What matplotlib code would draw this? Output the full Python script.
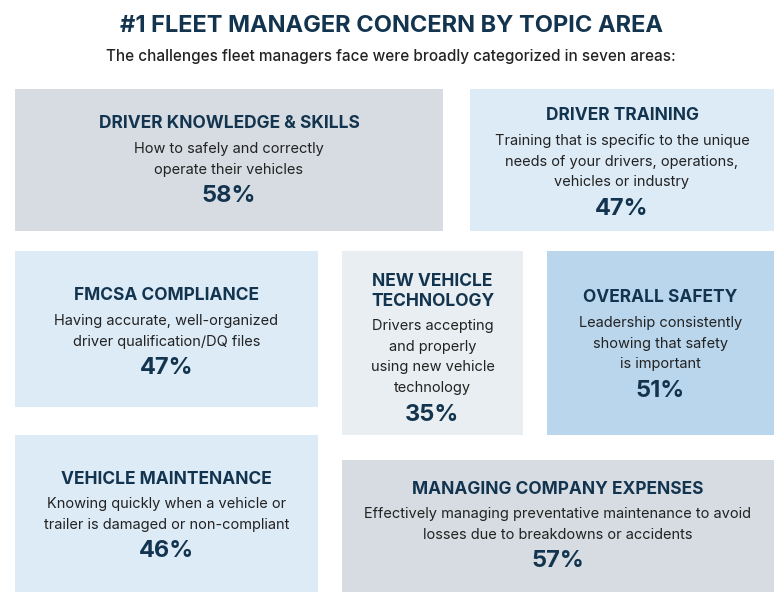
import matplotlib.pyplot as plt
from matplotlib.patches import Rectangle

plt.rcParams['font.family'] = ['Inter', 'DejaVu Sans']

topics = ["DRIVER KNOWLEDGE & SKILLS", "DRIVER TRAINING", "FMCSA COMPLIANCE",
          "NEW VEHICLE\nTECHNOLOGY", "OVERALL SAFETY", "VEHICLE MAINTENANCE",
          "MANAGING COMPANY EXPENSES"]
descriptions = [
    "How to safely and correctly\noperate their vehicles",
    "Training that is specific to the unique\nneeds of your drivers, operations,\nvehicles or industry",
    "Having accurate, well-organized\ndriver qualification/DQ files",
    "Drivers accepting\nand properly\nusing new vehicle\ntechnology",
    "Leadership consistently\nshowing that safety\nis important",
    "Knowing quickly when a vehicle or\ntrailer is damaged or non-compliant",
    "Effectively managing preventative maintenance to avoid\nlosses due to breakdowns or accidents",
]
percents = [58, 47, 47, 35, 51, 46, 57]

# layout: (x0, y0, x1, y1) in pixels, fill colour, first text line y
boxes = [(15, 89, 443, 231), (470, 89, 774, 231), (15, 251, 318, 407),
         (342, 251, 523, 435), (547, 251, 774, 435), (15, 435, 318, 592),
         (342, 460, 774, 592)]
colors = ["#d6dce2", "#ddebf7", "#ddebf7", "#e8eef1", "#bad6ec", "#ddebf7", "#d6dce2"]
start_y = [124, 116, 296, 281, 298, 479, 489]

navy = "#13344f"
dark = "#222222"

fig = plt.figure(figsize=(7.83, 6.02), dpi=100)
ax = fig.add_axes([0, 0, 1, 1])
ax.set_xlim(0, 783)
ax.set_ylim(602, 0)
ax.axis("off")

ax.text(391, 26, "#1 FLEET MANAGER CONCERN BY TOPIC AREA", ha="center", va="center",
        fontsize=17, fontweight="bold", color=navy)
ax.text(391, 56, "The challenges fleet managers face were broadly categorized in seven areas:",
        ha="center", va="center", fontsize=11, fontweight="medium", color=dark)

for (x0, y0, x1, y1), c, t, d, p, sy in zip(boxes, colors, topics, descriptions, percents, start_y):
    ax.add_patch(Rectangle((x0, y0), x1 - x0, y1 - y0, facecolor=c, edgecolor="none"))
    cx = (x0 + x1) / 2
    y = sy
    for line in t.split("\n"):
        ax.text(cx, y, line, ha="center", va="center", fontsize=12.5,
                fontweight="bold", color=navy)
        y += 20
    y += 5
    for line in d.split("\n"):
        ax.text(cx, y, line, ha="center", va="center", fontsize=10.5, color=dark)
        y += 20.7
    y += 6
    ax.text(cx, y, f"{p}%", ha="center", va="center", fontsize=17,
            fontweight="bold", color=navy)

fig.savefig("out.png", dpi=100)
